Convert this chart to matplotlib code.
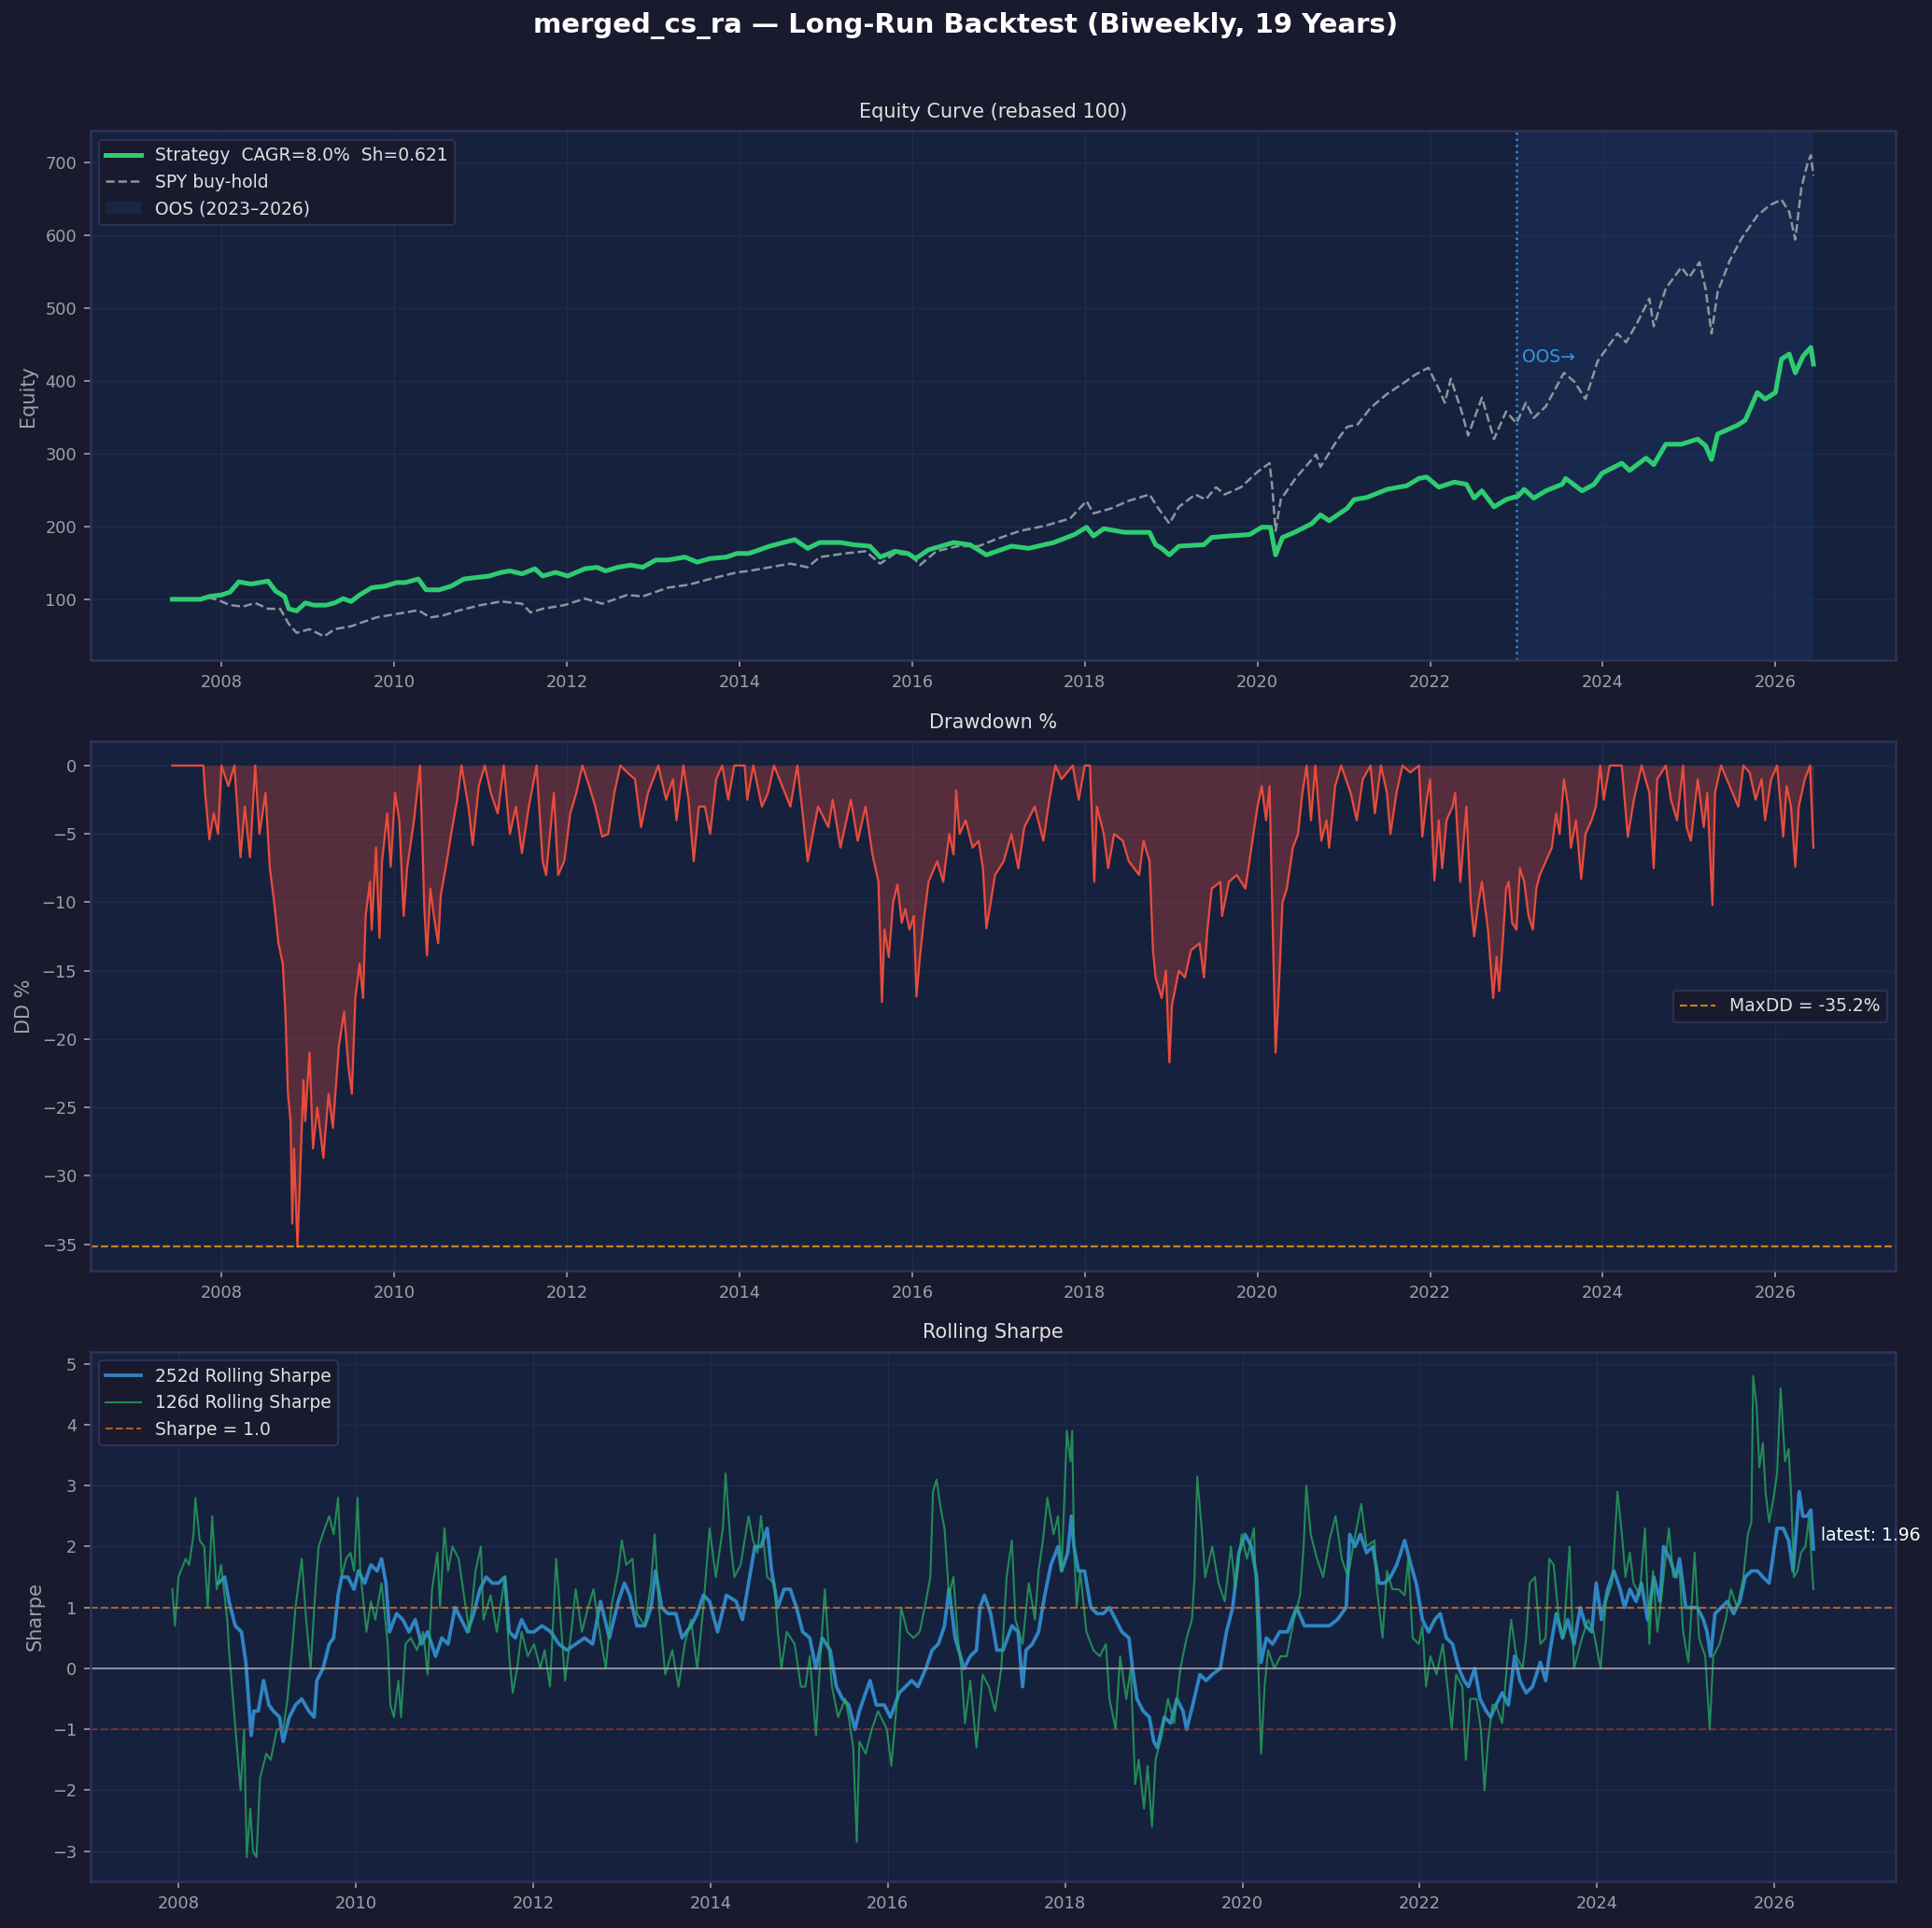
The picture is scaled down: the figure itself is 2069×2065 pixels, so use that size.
import numpy as np
import matplotlib
matplotlib.use("Agg")
import matplotlib.pyplot as plt

# ---- data (decimal year, value) ----
strategy = [
    (2007.43, 100), (2007.76, 100), (2007.86, 104), (2008.0, 106), (2008.1, 110), (2008.2, 124),
    (2008.34, 121), (2008.49, 124), (2008.54, 125), (2008.63, 111), (2008.73, 104), (2008.78, 87),
    (2008.87, 84), (2008.97, 95), (2009.07, 92), (2009.21, 92), (2009.31, 95), (2009.41, 101),
    (2009.5, 97), (2009.6, 106), (2009.74, 116), (2009.89, 118), (2010.03, 123), (2010.13, 123),
    (2010.28, 128), (2010.37, 113), (2010.52, 113), (2010.66, 118), (2010.81, 128), (2010.95, 130),
    (2011.1, 132), (2011.24, 137), (2011.34, 139), (2011.48, 135), (2011.63, 142), (2011.72, 132),
    (2011.87, 137), (2012.01, 132), (2012.21, 142), (2012.35, 144), (2012.45, 139), (2012.59, 144),
    (2012.74, 147), (2012.88, 144), (2013.03, 154), (2013.17, 154), (2013.37, 158), (2013.51, 151),
    (2013.66, 156), (2013.85, 158), (2013.97, 163), (2014.11, 163), (2014.35, 173), (2014.64, 182),
    (2014.79, 170), (2014.93, 178), (2015.17, 178), (2015.32, 175), (2015.51, 173), (2015.63, 158),
    (2015.8, 166), (2015.95, 163), (2016.04, 156), (2016.19, 168), (2016.48, 178), (2016.67, 175),
    (2016.86, 161), (2017.15, 173), (2017.35, 170), (2017.64, 178), (2017.88, 189), (2018.02, 199),
    (2018.1, 187), (2018.22, 197), (2018.46, 192), (2018.75, 192), (2018.82, 175), (2018.89, 170),
    (2018.98, 161), (2019.09, 173), (2019.38, 175), (2019.47, 185), (2019.67, 187), (2019.91, 189),
    (2020.05, 199), (2020.15, 199), (2020.21, 161), (2020.29, 185), (2020.43, 192), (2020.63, 204),
    (2020.73, 216), (2020.83, 208), (2021.04, 225), (2021.12, 237), (2021.27, 240), (2021.5, 251),
    (2021.73, 256), (2021.87, 266), (2021.96, 268), (2022.1, 254), (2022.28, 261), (2022.42, 258),
    (2022.51, 239), (2022.6, 249), (2022.74, 227), (2022.88, 237), (2023.02, 242), (2023.09, 251),
    (2023.2, 239), (2023.34, 249), (2023.53, 258), (2023.57, 266), (2023.76, 249), (2023.9, 258),
    (2023.99, 273), (2024.22, 287), (2024.31, 277), (2024.5, 294), (2024.59, 285), (2024.73, 313),
    (2024.91, 313), (2025.1, 320), (2025.19, 311), (2025.26, 292), (2025.33, 327), (2025.56, 339),
    (2025.65, 346), (2025.79, 384), (2025.88, 375), (2026.0, 384), (2026.07, 430), (2026.16, 437),
    (2026.23, 411), (2026.32, 434), (2026.41, 446), (2026.44, 423),
]

spy = [
    (2007.43, 100), (2007.57, 101), (2007.71, 98), (2007.81, 104), (2007.96, 99), (2008.1, 92),
    (2008.25, 90), (2008.39, 95), (2008.54, 87), (2008.68, 87), (2008.78, 66), (2008.87, 54),
    (2009.02, 59), (2009.19, 49), (2009.31, 59), (2009.5, 63), (2009.79, 75), (2010.03, 80),
    (2010.28, 85), (2010.42, 75), (2010.57, 78), (2010.76, 85), (2011.0, 92), (2011.24, 97),
    (2011.48, 94), (2011.58, 82), (2011.72, 87), (2011.97, 92), (2012.21, 101), (2012.41, 94),
    (2012.7, 106), (2012.88, 104), (2013.17, 116), (2013.41, 120), (2013.66, 128), (2013.97, 137),
    (2014.11, 139), (2014.35, 144), (2014.59, 149), (2014.79, 144), (2014.93, 158), (2015.22, 163),
    (2015.46, 166), (2015.63, 149), (2015.8, 163), (2015.99, 161), (2016.09, 147), (2016.28, 166),
    (2016.53, 173), (2016.77, 173), (2016.96, 182), (2017.25, 194), (2017.54, 201), (2017.83, 211),
    (2018.02, 235), (2018.1, 218), (2018.31, 225), (2018.5, 235), (2018.75, 244), (2018.84, 227),
    (2018.98, 204), (2019.09, 227), (2019.28, 244), (2019.4, 237), (2019.52, 254), (2019.62, 244),
    (2019.81, 254), (2020.0, 275), (2020.14, 287), (2020.17, 256), (2020.21, 194), (2020.27, 237),
    (2020.44, 266), (2020.68, 299), (2020.73, 282), (2020.92, 318), (2021.04, 337), (2021.16, 340),
    (2021.31, 363), (2021.5, 382), (2021.68, 396), (2021.82, 408), (2021.98, 418), (2022.1, 389),
    (2022.17, 370), (2022.24, 403), (2022.37, 356), (2022.44, 325), (2022.6, 377), (2022.74, 320),
    (2022.88, 358), (2023.0, 342), (2023.11, 370), (2023.2, 349), (2023.34, 365), (2023.55, 411),
    (2023.67, 399), (2023.8, 375), (2023.94, 427), (2024.17, 465), (2024.27, 453), (2024.4, 480),
    (2024.54, 513), (2024.59, 475), (2024.73, 527), (2024.91, 556), (2025.0, 542), (2025.12, 563),
    (2025.19, 527), (2025.26, 465), (2025.33, 522), (2025.47, 565), (2025.61, 596), (2025.79, 627),
    (2025.93, 641), (2026.07, 649), (2026.16, 632), (2026.23, 594), (2026.3, 665), (2026.37, 698),
    (2026.41, 710), (2026.44, 682),
]

drawdown = [
    (2007.43, 0), (2007.79, 0), (2007.81, -2), (2007.86, -5.4), (2007.91, -3.5), (2007.96, -5),
    (2008.0, 0), (2008.08, -1.5), (2008.15, 0), (2008.22, -6.7), (2008.27, -3), (2008.33, -6.7),
    (2008.39, 0), (2008.44, -5), (2008.51, -2), (2008.56, -7.5), (2008.61, -10), (2008.66, -13),
    (2008.71, -14.5), (2008.74, -18), (2008.77, -24), (2008.8, -26), (2008.82, -33.5), (2008.84, -28),
    (2008.88, -35.2), (2008.91, -30), (2008.95, -23), (2008.97, -26), (2009.02, -21), (2009.06, -28),
    (2009.11, -25), (2009.18, -28.7), (2009.24, -24), (2009.29, -26.5), (2009.36, -20.5), (2009.42, -18),
    (2009.47, -22), (2009.51, -24), (2009.55, -17), (2009.6, -14.5), (2009.64, -17), (2009.67, -11),
    (2009.72, -8.5), (2009.74, -12), (2009.79, -6), (2009.83, -12.6), (2009.86, -7), (2009.92, -3.5),
    (2009.96, -7.4), (2010.01, -2), (2010.06, -4), (2010.11, -11), (2010.15, -7.5), (2010.23, -4),
    (2010.3, 0), (2010.35, -10.5), (2010.38, -13.9), (2010.42, -9), (2010.46, -11), (2010.51, -13),
    (2010.54, -9.5), (2010.61, -7), (2010.66, -5), (2010.73, -2.5), (2010.78, 0), (2010.86, -3),
    (2010.91, -5.8), (2010.98, -1.5), (2011.05, 0), (2011.12, -2), (2011.2, -3.5), (2011.27, 0),
    (2011.34, -5), (2011.41, -3), (2011.48, -6.4), (2011.56, -3), (2011.65, 0), (2011.72, -7),
    (2011.76, -8), (2011.85, -2), (2011.9, -8), (2011.97, -7), (2012.04, -3.5), (2012.11, -2),
    (2012.18, 0), (2012.26, -1.5), (2012.33, -3), (2012.41, -5.2), (2012.48, -5), (2012.55, -2),
    (2012.62, 0), (2012.7, -0.5), (2012.79, -1), (2012.86, -4.5), (2012.94, -2), (2013.06, 0),
    (2013.15, -2.5), (2013.23, -1), (2013.27, -4), (2013.35, 0), (2013.41, -2.5), (2013.47, -7),
    (2013.53, -3), (2013.6, -3), (2013.66, -5), (2013.73, -1), (2013.8, 0), (2013.87, -2.5),
    (2013.94, 0), (2014.06, 0), (2014.09, -2.5), (2014.16, 0), (2014.26, -3), (2014.33, -2),
    (2014.4, 0), (2014.59, -3), (2014.67, 0), (2014.74, -4), (2014.79, -7), (2014.91, -3),
    (2015.03, -4.5), (2015.08, -2.5), (2015.17, -6), (2015.29, -2.5), (2015.37, -5.5), (2015.46, -3),
    (2015.54, -6.5), (2015.61, -8.5), (2015.65, -17.3), (2015.68, -12), (2015.73, -14), (2015.78, -10),
    (2015.83, -8.7), (2015.88, -11.5), (2015.92, -10.5), (2015.97, -12), (2016.02, -11), (2016.05, -16.9),
    (2016.09, -14), (2016.14, -11), (2016.19, -8.5), (2016.29, -7), (2016.36, -8.5), (2016.43, -5),
    (2016.48, -6.5), (2016.51, -1.8), (2016.55, -5), (2016.62, -4), (2016.7, -6), (2016.77, -5.5),
    (2016.82, -7.5), (2016.86, -11.9), (2016.91, -10), (2016.96, -8), (2017.06, -7), (2017.15, -5),
    (2017.23, -7.5), (2017.3, -4.5), (2017.42, -3), (2017.52, -5.5), (2017.59, -2.5), (2017.66, 0),
    (2017.73, -1), (2017.86, 0), (2017.93, -2.5), (2018.0, 0), (2018.06, 0), (2018.11, -8.5),
    (2018.14, -3), (2018.22, -5), (2018.27, -7.5), (2018.34, -5), (2018.44, -5.5), (2018.51, -7),
    (2018.63, -8), (2018.68, -5.5), (2018.75, -7), (2018.79, -13.5), (2018.82, -15.5), (2018.89, -17),
    (2018.94, -15), (2018.98, -21.7), (2019.01, -17.5), (2019.09, -15), (2019.16, -15.5), (2019.23, -13.5),
    (2019.33, -13), (2019.38, -15.5), (2019.42, -12), (2019.47, -9), (2019.57, -8.5), (2019.59, -11),
    (2019.67, -8.5), (2019.76, -8), (2019.86, -9), (2019.93, -6), (2020.0, -3), (2020.05, -1.5),
    (2020.1, -4), (2020.14, -1.5), (2020.17, -10), (2020.21, -21), (2020.25, -16), (2020.29, -10),
    (2020.34, -9), (2020.41, -6), (2020.47, -5), (2020.52, -2), (2020.57, 0), (2020.62, -4),
    (2020.67, 0), (2020.74, -5.5), (2020.8, -4), (2020.83, -6), (2020.9, -1.5), (2020.97, 0),
    (2021.08, -2), (2021.15, -4), (2021.22, -1), (2021.31, 0), (2021.36, -3.5), (2021.43, 0),
    (2021.5, -2), (2021.54, -5), (2021.61, -2), (2021.68, 0), (2021.77, -0.5), (2021.87, 0),
    (2021.91, -5.2), (2021.96, -2.5), (2022.0, -1), (2022.05, -8.4), (2022.1, -4), (2022.14, -7.5),
    (2022.19, -4), (2022.26, -3), (2022.29, -2), (2022.35, -8.5), (2022.42, -3), (2022.47, -10),
    (2022.51, -12.5), (2022.56, -10), (2022.6, -8.5), (2022.67, -12), (2022.73, -17), (2022.77, -14),
    (2022.8, -16.5), (2022.84, -13), (2022.88, -9), (2022.91, -8.5), (2022.95, -11.5), (2023.0, -12),
    (2023.04, -7.5), (2023.09, -8.5), (2023.14, -11), (2023.19, -12), (2023.23, -9), (2023.27, -8),
    (2023.34, -7), (2023.41, -6), (2023.46, -3.5), (2023.5, -5), (2023.55, -1), (2023.6, -3),
    (2023.63, -6), (2023.69, -4), (2023.75, -8.3), (2023.8, -5), (2023.87, -4), (2023.92, -3),
    (2023.97, 0), (2024.01, -2.5), (2024.08, 0), (2024.22, 0), (2024.29, -5.2), (2024.36, -2.5),
    (2024.45, 0), (2024.54, -2), (2024.59, -7.5), (2024.63, -1), (2024.73, 0), (2024.79, -2.5),
    (2024.86, -4), (2024.93, 0), (2024.97, -4.5), (2025.02, -5.5), (2025.1, -1), (2025.17, -4.5),
    (2025.21, -2), (2025.27, -10.2), (2025.3, -2), (2025.37, 0), (2025.47, -1.5), (2025.57, -3),
    (2025.63, 0), (2025.7, -0.5), (2025.77, -2.5), (2025.84, -1), (2025.88, -4), (2025.95, -1),
    (2026.02, 0), (2026.09, -5.2), (2026.13, -1.5), (2026.18, -3), (2026.23, -7.4), (2026.27, -3),
    (2026.34, -1), (2026.4, 0), (2026.42, -3), (2026.44, -6),
]

sharpe_126 = [
    (2007.93, 1.3), (2007.96, 0.7), (2008.0, 1.5), (2008.08, 1.8), (2008.12, 1.7), (2008.17, 2.2),
    (2008.19, 2.8), (2008.24, 2.1), (2008.29, 2.0), (2008.33, 1.0), (2008.38, 2.5), (2008.43, 1.3),
    (2008.48, 1.7), (2008.55, 0.8), (2008.57, 0.3), (2008.62, -0.6), (2008.66, -1.3), (2008.7, -2.0),
    (2008.74, -1.0), (2008.77, -3.1), (2008.81, -2.3), (2008.84, -3.0), (2008.88, -3.1), (2008.92, -1.8),
    (2008.99, -1.4), (2009.04, -1.5), (2009.11, -1.0), (2009.18, -1.0), (2009.23, -0.5), (2009.28, 0.3),
    (2009.32, 1.0), (2009.39, 1.8), (2009.44, 0.8), (2009.49, 0.0), (2009.54, 1.2), (2009.58, 2.0),
    (2009.65, 2.3), (2009.7, 2.5), (2009.75, 2.2), (2009.8, 2.8), (2009.84, 1.5), (2009.89, 1.8),
    (2009.94, 1.9), (2009.98, 1.6), (2010.02, 2.8), (2010.05, 1.6), (2010.12, 0.6), (2010.17, 1.1),
    (2010.22, 0.8), (2010.29, 1.4), (2010.36, 0.4), (2010.39, -0.6), (2010.43, -0.8), (2010.48, -0.2),
    (2010.51, -0.8), (2010.56, 0.4), (2010.62, 0.5), (2010.69, 0.3), (2010.76, 0.6), (2010.81, -0.1),
    (2010.86, 1.3), (2010.92, 1.9), (2010.95, 1.0), (2011.0, 2.3), (2011.04, 1.6), (2011.09, 2.0),
    (2011.16, 1.8), (2011.23, 1.1), (2011.28, 0.6), (2011.35, 1.6), (2011.41, 2.0), (2011.44, 0.8),
    (2011.52, 1.2), (2011.59, 0.6), (2011.68, 1.5), (2011.73, 0.2), (2011.77, -0.4), (2011.82, 0.0),
    (2011.87, 0.6), (2011.94, 0.2), (2012.01, 0.4), (2012.08, 0.0), (2012.13, 0.3), (2012.19, -0.3),
    (2012.26, 1.8), (2012.32, 0.6), (2012.36, -0.2), (2012.43, 0.6), (2012.48, 1.3), (2012.55, 0.6),
    (2012.62, 1.0), (2012.68, 1.3), (2012.76, 0.5), (2012.82, 0.0), (2012.88, 1.0), (2012.96, 1.6),
    (2013.0, 2.1), (2013.05, 1.7), (2013.12, 1.8), (2013.17, 0.9), (2013.26, 0.7), (2013.33, 1.4),
    (2013.37, 2.2), (2013.42, 1.0), (2013.49, -0.1), (2013.57, 0.3), (2013.64, -0.3), (2013.71, 0.4),
    (2013.78, 0.8), (2013.85, 0.0), (2013.92, 1.0), (2013.99, 2.3), (2014.06, 1.5), (2014.14, 2.3),
    (2014.17, 3.2), (2014.23, 2.0), (2014.27, 1.5), (2014.34, 1.7), (2014.43, 2.5), (2014.48, 2.1),
    (2014.53, 1.9), (2014.57, 2.5), (2014.64, 1.5), (2014.72, 1.4), (2014.76, 0.6), (2014.8, 0.0),
    (2014.86, 0.6), (2014.95, 0.4), (2015.02, -0.3), (2015.07, -0.3), (2015.12, 0.2), (2015.19, -1.1),
    (2015.24, 0.2), (2015.29, 1.3), (2015.33, 0.4), (2015.37, -0.3), (2015.44, -0.8), (2015.52, -0.5),
    (2015.56, -0.8), (2015.61, -1.3), (2015.65, -2.85), (2015.68, -1.2), (2015.75, -1.4), (2015.82, -1.0),
    (2015.89, -0.7), (2015.99, -1.0), (2016.04, -1.6), (2016.1, -0.6), (2016.15, 1.0), (2016.22, 0.6),
    (2016.29, 0.5), (2016.36, 0.6), (2016.43, 1.1), (2016.48, 1.5), (2016.51, 2.9), (2016.55, 3.1),
    (2016.6, 2.6), (2016.64, 2.3), (2016.69, 1.2), (2016.74, 1.5), (2016.79, 0.5), (2016.83, 0.0),
    (2016.87, -0.9), (2016.93, -0.2), (2017.0, -1.3), (2017.07, -0.1), (2017.14, -0.3), (2017.21, -0.7),
    (2017.28, 0.0), (2017.34, 1.5), (2017.4, 2.1), (2017.44, 0.8), (2017.52, 0.4), (2017.59, 1.4),
    (2017.66, 0.8), (2017.7, 1.6), (2017.75, 2.1), (2017.8, 2.8), (2017.87, 2.2), (2017.92, 2.5),
    (2017.96, 1.6), (2018.02, 3.9), (2018.06, 3.4), (2018.08, 3.9), (2018.1, 2.0), (2018.13, 1.0),
    (2018.17, 1.6), (2018.24, 0.6), (2018.32, 0.3), (2018.39, 0.2), (2018.46, 0.4), (2018.5, -0.5),
    (2018.57, -1.0), (2018.62, 0.2), (2018.69, -0.5), (2018.74, 0.0), (2018.79, -1.9), (2018.83, -1.5),
    (2018.89, -2.3), (2018.93, -1.6), (2018.98, -2.6), (2019.02, -1.5), (2019.09, -1.1), (2019.16, -0.5),
    (2019.23, -0.9), (2019.3, 0.0), (2019.37, 0.5), (2019.43, 0.8), (2019.46, 1.5), (2019.49, 3.15),
    (2019.54, 2.3), (2019.58, 1.5), (2019.66, 2.0), (2019.73, 1.4), (2019.8, 1.1), (2019.87, 2.0),
    (2019.92, 1.3), (2019.99, 2.2), (2020.05, 1.8), (2020.13, 2.3), (2020.17, 0.5), (2020.21, -1.4),
    (2020.25, -0.3), (2020.29, 0.3), (2020.36, 0.0), (2020.43, 0.2), (2020.5, 0.2), (2020.58, 0.8),
    (2020.65, 1.2), (2020.69, 2.0), (2020.72, 3.0), (2020.77, 2.2), (2020.84, 1.8), (2020.91, 1.5),
    (2020.98, 2.1), (2021.05, 2.5), (2021.12, 1.8), (2021.19, 1.5), (2021.26, 2.1), (2021.34, 2.7),
    (2021.4, 2.0), (2021.49, 2.1), (2021.51, 1.4), (2021.58, 0.5), (2021.63, 1.6), (2021.69, 1.3),
    (2021.76, 1.3), (2021.83, 1.2), (2021.87, 1.8), (2021.92, 0.5), (2021.99, 0.4), (2022.03, 0.7),
    (2022.07, -0.3), (2022.12, 0.2), (2022.19, -0.1), (2022.26, 0.4), (2022.32, -0.4), (2022.36, -1.0),
    (2022.41, -0.1), (2022.48, -0.3), (2022.52, -1.5), (2022.57, -0.5), (2022.64, -0.5), (2022.69, -1.0),
    (2022.73, -2.0), (2022.77, -1.2), (2022.82, -0.6), (2022.86, -0.6), (2022.93, -0.9), (2022.98, 0.0),
    (2023.03, 0.8), (2023.09, 0.2), (2023.16, 0.0), (2023.2, 0.5), (2023.24, 1.4), (2023.3, 1.5),
    (2023.36, 0.4), (2023.42, 0.5), (2023.46, 1.8), (2023.51, 1.7), (2023.57, 0.8), (2023.62, 0.5),
    (2023.69, 2.0), (2023.74, 0.0), (2023.83, 0.5), (2023.9, 0.8), (2023.96, 0.6), (2024.04, 0.0),
    (2024.1, 1.1), (2024.17, 1.4), (2024.23, 2.9), (2024.28, 2.2), (2024.32, 1.5), (2024.37, 1.9),
    (2024.41, 1.4), (2024.48, 1.2), (2024.54, 2.3), (2024.59, 0.4), (2024.63, 1.6), (2024.68, 0.6),
    (2024.75, 1.5), (2024.81, 2.3), (2024.86, 1.5), (2024.93, 1.6), (2024.97, 0.6), (2025.03, 0.1),
    (2025.1, 1.9), (2025.15, 0.5), (2025.22, 0.2), (2025.27, -1.0), (2025.31, 0.2), (2025.38, 0.4),
    (2025.45, 0.8), (2025.51, 1.3), (2025.58, 1.0), (2025.65, 1.5), (2025.7, 2.2), (2025.74, 2.4),
    (2025.76, 4.8), (2025.8, 4.3), (2025.83, 3.3), (2025.87, 3.7), (2025.9, 2.9), (2025.94, 2.4),
    (2025.99, 2.8), (2026.03, 3.2), (2026.07, 4.6), (2026.12, 3.4), (2026.16, 3.6), (2026.19, 2.8),
    (2026.22, 1.5), (2026.26, 1.6), (2026.3, 1.9), (2026.35, 2.0), (2026.39, 2.5), (2026.43, 1.5),
    (2026.44, 1.3),
]

sharpe_252 = [
    (2008.45, 1.4), (2008.52, 1.5), (2008.57, 1.1), (2008.64, 0.7), (2008.71, 0.6), (2008.76, 0.1),
    (2008.78, -0.3), (2008.82, -1.1), (2008.85, -0.7), (2008.9, -0.7), (2008.96, -0.2), (2009.02, -0.6),
    (2009.07, -0.7), (2009.14, -0.8), (2009.18, -1.2), (2009.25, -0.8), (2009.32, -0.6), (2009.39, -0.5),
    (2009.47, -0.7), (2009.53, -0.8), (2009.56, -0.2), (2009.63, 0.0), (2009.7, 0.4), (2009.75, 0.5),
    (2009.8, 1.2), (2009.84, 1.5), (2009.91, 1.5), (2009.98, 1.3), (2010.03, 1.6), (2010.1, 1.4),
    (2010.17, 1.7), (2010.24, 1.6), (2010.29, 1.8), (2010.34, 1.4), (2010.38, 0.6), (2010.46, 0.9),
    (2010.53, 0.8), (2010.6, 0.6), (2010.67, 0.8), (2010.74, 0.4), (2010.81, 0.6), (2010.9, 0.2),
    (2010.97, 0.5), (2011.04, 0.4), (2011.12, 1.0), (2011.19, 0.8), (2011.26, 0.6), (2011.33, 0.9),
    (2011.4, 1.3), (2011.47, 1.5), (2011.54, 1.4), (2011.61, 1.4), (2011.68, 1.5), (2011.73, 0.6),
    (2011.8, 0.5), (2011.87, 0.8), (2011.94, 0.6), (2012.01, 0.6), (2012.1, 0.7), (2012.2, 0.6),
    (2012.29, 0.4), (2012.38, 0.3), (2012.48, 0.4), (2012.58, 0.5), (2012.67, 0.4), (2012.76, 1.1),
    (2012.86, 0.5), (2012.96, 1.1), (2013.03, 1.4), (2013.09, 1.2), (2013.17, 0.7), (2013.26, 0.7),
    (2013.33, 1.0), (2013.38, 1.6), (2013.45, 1.0), (2013.52, 0.9), (2013.61, 0.9), (2013.68, 0.5),
    (2013.78, 0.7), (2013.85, 0.9), (2013.92, 1.2), (2013.99, 1.1), (2014.08, 0.6), (2014.18, 1.2),
    (2014.29, 1.1), (2014.36, 0.8), (2014.43, 1.4), (2014.5, 2.0), (2014.57, 2.0), (2014.64, 2.3),
    (2014.69, 1.6), (2014.76, 1.0), (2014.83, 1.3), (2014.9, 1.3), (2014.97, 1.0), (2015.04, 0.6),
    (2015.12, 0.5), (2015.19, 0.0), (2015.26, 0.5), (2015.35, 0.3), (2015.42, -0.3), (2015.49, -0.5),
    (2015.56, -0.6), (2015.63, -1.0), (2015.68, -0.7), (2015.75, -0.4), (2015.8, -0.2), (2015.87, -0.6),
    (2015.96, -0.6), (2016.03, -0.8), (2016.08, -0.6), (2016.13, -0.4), (2016.2, -0.3), (2016.27, -0.2),
    (2016.34, -0.3), (2016.43, 0.0), (2016.5, 0.3), (2016.57, 0.4), (2016.64, 0.7), (2016.69, 1.3),
    (2016.76, 0.5), (2016.86, 0.0), (2016.93, 0.2), (2017.0, 0.3), (2017.04, 1.0), (2017.09, 1.2),
    (2017.16, 0.9), (2017.23, 0.3), (2017.3, 0.3), (2017.4, 0.7), (2017.47, 0.6), (2017.52, -0.3),
    (2017.56, 0.3), (2017.63, 0.4), (2017.7, 0.6), (2017.77, 1.2), (2017.84, 1.7), (2017.92, 2.0),
    (2017.96, 1.6), (2018.03, 1.9), (2018.07, 2.5), (2018.1, 2.0), (2018.15, 1.6), (2018.22, 1.6),
    (2018.29, 1.0), (2018.36, 0.9), (2018.43, 0.9), (2018.5, 1.0), (2018.57, 0.8), (2018.64, 0.6),
    (2018.72, 0.5), (2018.76, 0.0), (2018.81, -0.5), (2018.88, -0.7), (2018.95, -0.8), (2019.0, -1.2),
    (2019.04, -1.3), (2019.12, -0.8), (2019.19, -0.9), (2019.26, -0.5), (2019.33, -0.7), (2019.37, -1.0),
    (2019.44, -0.6), (2019.52, -0.1), (2019.59, -0.2), (2019.66, -0.1), (2019.75, 0.0), (2019.82, 0.6),
    (2019.89, 1.0), (2019.96, 1.9), (2020.03, 2.2), (2020.1, 2.0), (2020.16, 1.5), (2020.21, 0.1),
    (2020.27, 0.5), (2020.34, 0.4), (2020.42, 0.6), (2020.51, 0.6), (2020.61, 1.0), (2020.7, 0.7),
    (2020.79, 0.7), (2020.88, 0.7), (2020.98, 0.7), (2021.07, 0.8), (2021.17, 1.0), (2021.21, 2.2),
    (2021.27, 2.0), (2021.33, 2.2), (2021.4, 1.9), (2021.47, 2.0), (2021.54, 1.4), (2021.6, 1.4),
    (2021.67, 1.5), (2021.74, 1.7), (2021.83, 2.1), (2021.9, 1.7), (2021.96, 1.4), (2022.03, 0.8),
    (2022.1, 0.6), (2022.17, 0.8), (2022.23, 0.9), (2022.3, 0.5), (2022.37, 0.4), (2022.44, 0.0),
    (2022.5, -0.2), (2022.55, -0.3), (2022.62, 0.0), (2022.68, -0.5), (2022.75, -0.7), (2022.8, -0.8),
    (2022.86, -0.6), (2022.93, -0.4), (2023.0, -0.6), (2023.07, 0.2), (2023.13, -0.2), (2023.2, -0.4),
    (2023.27, -0.3), (2023.36, 0.1), (2023.42, -0.2), (2023.47, 0.3), (2023.54, 0.9), (2023.61, 0.5),
    (2023.67, 0.8), (2023.74, 0.4), (2023.81, 1.0), (2023.87, 0.7), (2023.94, 0.6), (2023.99, 1.4),
    (2024.05, 0.8), (2024.12, 1.3), (2024.19, 1.6), (2024.26, 1.3), (2024.31, 1.0), (2024.37, 1.3),
    (2024.44, 1.1), (2024.5, 1.4), (2024.57, 0.8), (2024.64, 1.5), (2024.71, 1.1), (2024.75, 2.0),
    (2024.82, 1.8), (2024.89, 1.5), (2024.93, 1.8), (2025.0, 1.0), (2025.07, 1.0), (2025.13, 1.0),
    (2025.2, 0.8), (2025.24, 0.6), (2025.28, 0.2), (2025.33, 0.9), (2025.4, 1.0), (2025.47, 1.1),
    (2025.54, 0.9), (2025.61, 1.1), (2025.67, 1.5), (2025.74, 1.6), (2025.81, 1.6), (2025.87, 1.5),
    (2025.94, 1.4), (2025.99, 1.9), (2026.03, 2.3), (2026.1, 2.3), (2026.16, 2.1), (2026.21, 1.6),
    (2026.28, 2.9), (2026.32, 2.5), (2026.37, 2.5), (2026.41, 2.6), (2026.44, 1.96),
]

oos_start = 2023.0
max_dd = -35.2
cagr, sharpe = 8.0, 0.621
year_ticks = list(range(2008, 2027, 2))

# ---- style ----
BG = '#1a1a2e'
PANEL = '#16213e'
EDGE = '#2e3358'
TXT = '#e0e0e0'
TICK = '#a0a0a8'

plt.rcParams.update({
    'font.family': 'DejaVu Sans',
    'axes.facecolor': PANEL,
    'figure.facecolor': BG,
    'axes.edgecolor': EDGE,
    'axes.labelcolor': TICK,
    'xtick.color': TICK,
    'ytick.color': TICK,
    'xtick.labelsize': 8.5,
    'ytick.labelsize': 8.5,
    'text.color': TXT,
})

s_t, s_v = np.array(strategy).T
b_t, b_v = np.array(spy).T
d_t, d_v = np.array(drawdown).T
g_t, g_v = np.array(sharpe_126).T
r_t, r_v = np.array(sharpe_252).T

fig, axes = plt.subplots(3, 1, figsize=(2069 / 150, 2065 / 150), dpi=150)
fig.subplots_adjust(left=0.0467, right=0.9811, top=0.932, bottom=0.0242, hspace=0.153)
fig.suptitle('merged_cs_ra \u2014 Long-Run Backtest (Biweekly, 19 Years)',
             fontsize=14, fontweight='bold', color='white', y=0.9935)


def style(ax, title, ylabel):
    ax.set_title(title, color=TXT, fontsize=10, pad=7)
    ax.set_ylabel(ylabel, fontsize=10, color=TICK)
    ax.grid(True, color='#2a3358', alpha=0.6, linewidth=0.6)
    ax.set_axisbelow(True)
    for sp in ax.spines.values():
        sp.set_color(EDGE)
        sp.set_linewidth(1.2)
    ax.set_xticks(year_ticks)
    ax.set_xticklabels([str(y) for y in year_ticks])


def legend(ax, **kw):
    lg = ax.legend(facecolor=BG, edgecolor=EDGE, fontsize=9, framealpha=0.95, **kw)
    for t in lg.get_texts():
        t.set_color(TXT)
    return lg


# ---- equity ----
ax = axes[0]
ax.axvspan(oos_start, s_t[-1], color='#1d3a6a', alpha=0.35, lw=0, label='OOS (2023\u20132026)')
ax.plot(s_t, s_v, color='#2ecc71', lw=2.4,
        label=f'Strategy  CAGR={cagr:.1f}%  Sh={sharpe:.3f}', zorder=3)
ax.plot(b_t, b_v, color='#95a5a6', lw=1.2, ls='--', alpha=0.9, label='SPY buy-hold', zorder=2)
ax.axvline(oos_start, color='#3498db', ls=':', lw=1.2, alpha=0.9)
ax.text(oos_start + 0.07, 432, 'OOS\u2192', color='#3498db', fontsize=9, va='center')
style(ax, 'Equity Curve (rebased 100)', 'Equity')
h, l = ax.get_legend_handles_labels()
legend(ax, handles=[h[1], h[2], h[0]], labels=[l[1], l[2], l[0]], loc='upper left')

# ---- drawdown ----
ax = axes[1]
ax.fill_between(d_t, d_v, 0, color='#e74c3c', alpha=0.3, lw=0)
ax.plot(d_t, d_v, color='#e74c3c', lw=1.1)
ax.axhline(max_dd, color='#f39c12', ls='--', lw=1.0, alpha=0.8, label=f'MaxDD = {max_dd:.1f}%')
style(ax, 'Drawdown %', 'DD %')
legend(ax, loc='center right')

# ---- rolling sharpe ----
ax = axes[2]
ax.plot(r_t, r_v, color='#3498db', lw=1.8, alpha=0.85, label='252d Rolling Sharpe')
ax.plot(g_t, g_v, color='#27ae60', lw=1.0, alpha=0.75, label='126d Rolling Sharpe')
ax.axhline(1.0, color='#e67e22', ls='--', lw=1.0, alpha=0.7, label='Sharpe = 1.0')
ax.axhline(0.0, color='#aaaaaa', lw=1.0, alpha=0.8)
ax.axhline(-1.0, color='#c0392b', ls='--', lw=1.0, alpha=0.5)
latest = r_v[-1]
ax.annotate(f'latest: {latest:.2f}', xy=(r_t[-1], latest), xytext=(4, 7),
            textcoords='offset points', color='white', fontsize=9, va='center')
style(ax, 'Rolling Sharpe', 'Sharpe')
legend(ax, loc='upper left')

fig.savefig('out.png', dpi=150, facecolor=BG)
